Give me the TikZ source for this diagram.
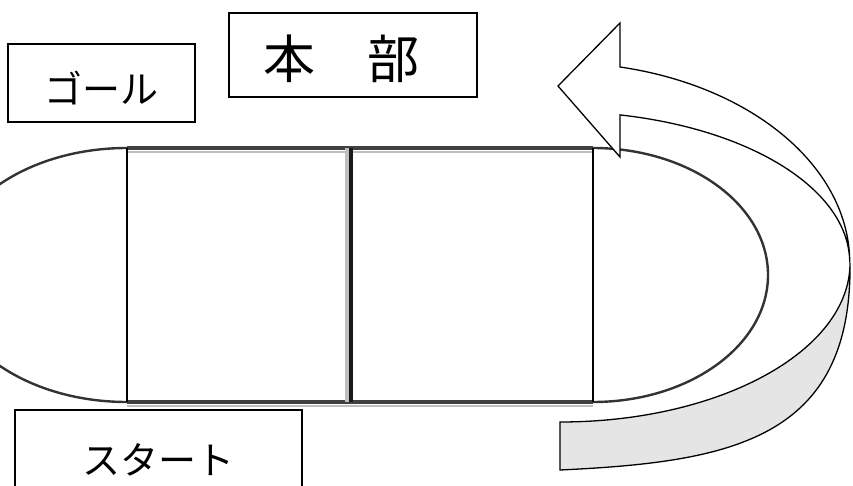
\documentclass[tikz,border=0pt]{standalone}
\usepackage{fontspec}
\newfontfamily\jpfont{Noto Sans CJK JP}
\tikzstyle{sign} = [rectangle, draw, fill=white, line width=2pt,
                 font=\jpfont\fontsize{38}{40}\selectfont]
\tikzstyle{rim} = [draw=black!80, line width=2.4pt]
\tikzstyle{ribbon} = [draw, line width=1.3pt, line join=miter]

\begin{document}
\begin{tikzpicture}[x=1pt, y=1pt]
\useasboundingbox (0,0) rectangle (853,485);
\clip (0,0) rectangle (853,485);

% track
\draw[line width=2.5pt, black!25] (127,333) -- (593,333);
\draw[line width=2.5pt, black!25] (127,79) -- (593,79);
\draw[line width=3.5pt, black!75] (127,337) -- (593,337);
\draw[line width=3.5pt, black!75] (127,83) -- (593,83);
\path [rim] (127,337) arc[start angle=90, end angle=270, x radius=182pt, y radius=127pt];
\path [rim] (593,337) arc[start angle=90, end angle=-90, x radius=175pt, y radius=127pt];
\draw[line width=2.8pt] (127,83) -- (127,337);
\draw[line width=4pt, black!25] (347,83) -- (347,337);
\draw[line width=4pt, black!90] (351,83) -- (351,337);
\draw[line width=2.8pt] (593,83) -- (593,337);

% signs
\node [sign, minimum width=187pt, minimum height=78pt] (goal) at (101.5,402)
      {\raisebox{-5pt}[\height][\depth]{ゴール}};
\node [sign, minimum width=287pt, minimum height=100pt] (start) at (158.5,25) {スタート};
\node [sign, line width=2.8pt, minimum width=248pt, minimum height=84pt,
       label={[font=\jpfont\fontsize{52}{54}\selectfont, xshift=-12pt, yshift=-4pt]center:本　部}]
       (honbu) at (353,430) {};

% arrow round the end
\filldraw [ribbon, fill=gray!20] (850,222) arc[start angle=0, end angle=-90, x radius=290pt, y radius=159pt]
      -- (560,15) .. controls (730,23) and (852,45) .. (850,222) -- cycle;
\filldraw [ribbon, fill=white] (620,370) -- (620,328) -- (558,399) -- (620,462) -- (620,418)
      arc[start angle=78, end angle=0, x radius=290pt, y radius=200pt]
      arc[start angle=0, end angle=78, x radius=290pt, y radius=151pt] -- cycle;

\end{tikzpicture}
\end{document}
